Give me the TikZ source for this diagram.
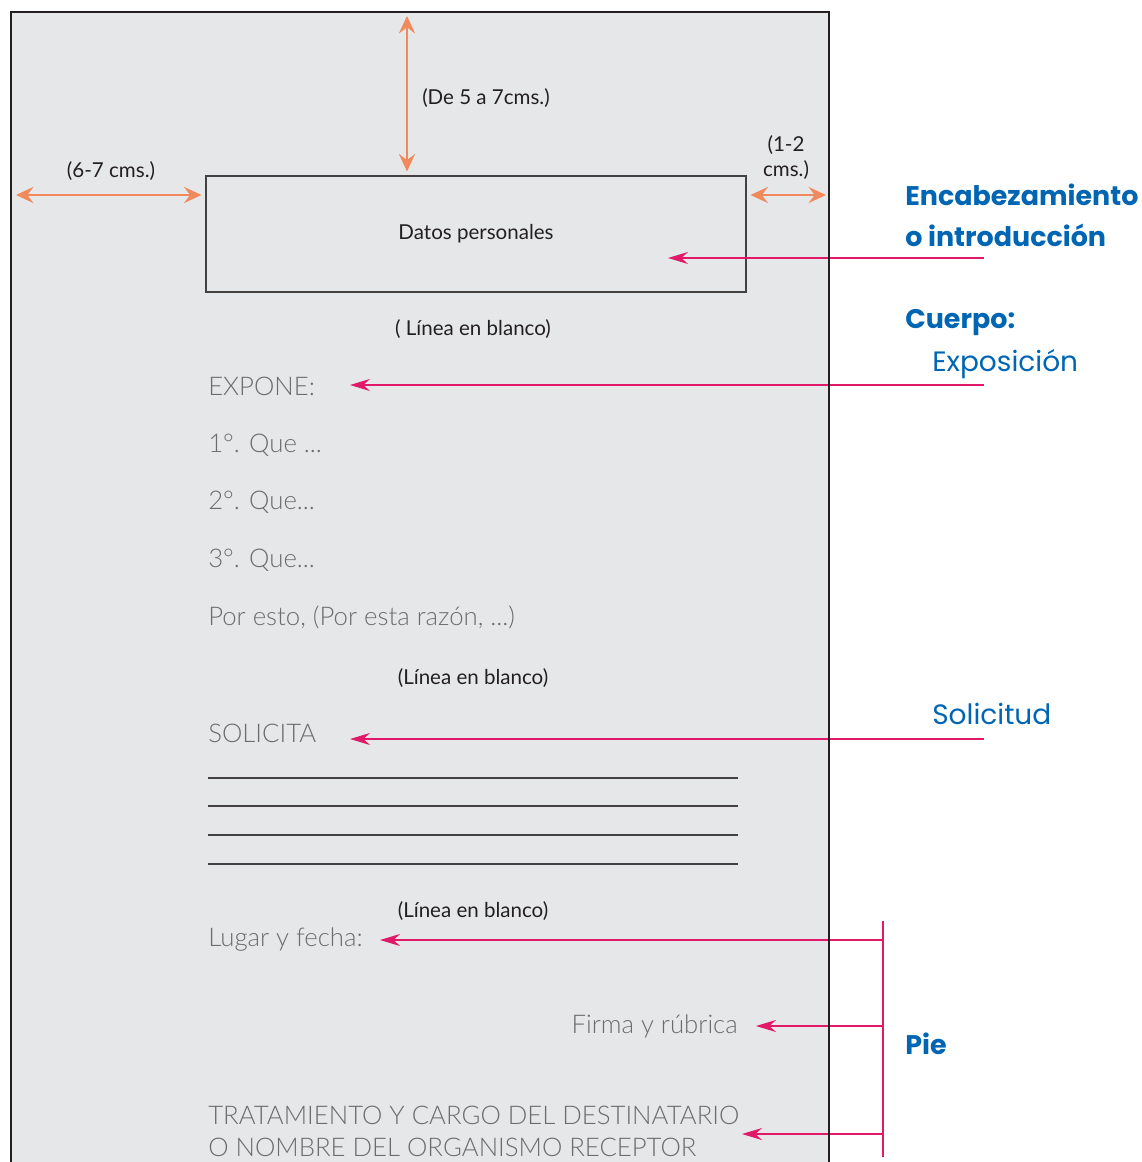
\documentclass[tikz,border=0pt]{standalone}
\usepackage{fontspec}
\setmainfont{Lato}
\newfontfamily\lightfont{Lato Light}
\newfontfamily\roundfont{Poppins}
\usepackage{tikz}
\usetikzlibrary{arrows.meta,positioning}
\definecolor{pagegray}{RGB}{230,231,233}
\definecolor{dimorange}{RGB}{240,138,92}
\definecolor{markpink}{RGB}{226,24,104}
\definecolor{headblue}{RGB}{0,102,179}
\definecolor{textgray}{RGB}{108,108,110}
\definecolor{labelblack}{RGB}{35,31,32}
\tikzstyle{dimarrow}=[
	{Stealth[length=13pt,width=12pt,inset=4.5pt]}-{Stealth[length=13pt,width=12pt,inset=4.5pt]},
	draw=dimorange,
	line width=1.9pt
]
\tikzstyle{pinkarrow}=[
	-{Stealth[length=15pt,width=9pt,inset=5pt]},
	draw=markpink,
	line width=1pt
]
\tikzstyle{graytext}=[
    inner sep=0pt,
    anchor=base west,
    text=textgray,
    font=\lightfont\fontsize{19.3}{23}\selectfont
]
\tikzstyle{smalllabel}=[
    inner sep=0pt,
    text=labelblack,
    font=\fontsize{15.4}{18.75}\selectfont,
    align=center
]
\tikzstyle{bluehead}=[
    inner sep=0pt,
    anchor=base west,
    text=headblue,
    font=\roundfont\bfseries\fontsize{20.2}{25}\selectfont
]
\tikzstyle{bluesub}=[
    inner sep=0pt,
    anchor=base west,
    text=headblue,
    font=\roundfont\fontsize{21}{25}\selectfont
]

\begin{document}
\begin{tikzpicture}[x=0.75pt,y=-0.75pt]
                \useasboundingbox (0,0) rectangle (1141,1162);
\fill[pagegray] (11,12) rectangle (829,1162);

\node[draw=labelblack!85, line width=0.8pt, minimum width=405pt, minimum height=87pt, smalllabel] (datos) at (476,234) {Datos personales};

\coordinate (topEdge) at (407,16);
\coordinate (leftEdge) at (16,195);
\coordinate (rightEdge) at (826,195);
\draw[dimarrow] (topEdge) -- ([yshift=3pt]datos.north -| topEdge);
\draw[dimarrow] (leftEdge) -- ([xshift=-3pt]leftEdge -| datos.west);
\draw[dimarrow] ([xshift=3pt]rightEdge -| datos.east) -- (rightEdge);
\node[smalllabel] (topdim) at (486,98) {(De 5 a 7cms.)};
\node[smalllabel] (leftdim) at (111,171) {(6-7 cms.)};
\node[smalllabel] (rightdim) at (786,158) {(1-2\\cms.)};

\node[smalllabel, anchor=base] (blank1) at (473,335) {( Línea en blanco)};
\node[graytext] (expone) at (208,395) {EXPONE:};
\node[graytext] (q1) at (208,452) {1°. Que ...};
\node[graytext] (q2) at (208,509) {2°. Que...};
\node[graytext] (q3) at (208,567) {3°. Que...};
\node[graytext] (porEsto) at (208,625) {Por esto, (Por esta razón, ...)};
\node[smalllabel, anchor=base] (blank2) at (473,684) {(Línea en blanco)};
\node[graytext] (solicita) at (208,742) {SOLICITA};
\foreach \y in {778,806,835,864}
    \draw[labelblack!85, line width=0.8pt] (208,\y) -- (738,\y);
\node[smalllabel, anchor=base] (blank3) at (473,917) {(Línea en blanco)};
\node[graytext] (lugar) at (208,946) {Lugar y fecha:};
\node[graytext, anchor=base east] (firma) at (738,1033) {Firma y rúbrica};
\node[graytext] (trat1) at (208,1124) {TRATAMIENTO Y CARGO DEL DESTINATARIO};
\node[graytext] (trat2) at (208,1156) {O NOMBRE DEL ORGANISMO RECEPTOR};

\node[bluehead] (enc1) at (905,206) {Encabezamiento};
\node[bluehead] (enc2) at (905,247) {o introducción};
\node[bluehead] (cuerpo) at (905,328) {Cuerpo:};
\node[bluesub] (expo) at (932,371) {Exposición};
\node[bluesub] (solic) at (932,724) {Solicitud};
\node[bluehead] (pie) at (905,1054) {Pie};

\coordinate (encEnd) at (984,258);
\coordinate (encTip) at (668,258);
\coordinate (expoEnd) at (984,385);
\coordinate (expoTip) at (350,385);
\coordinate (solEnd) at (984,739);
\coordinate (solTip) at (350,739);
\coordinate (pieTop) at (883,921);
\coordinate (pieBot) at (883,1157);
\coordinate (lugarTip) at (380,940);
\coordinate (firmaTip) at (756,1026);
\coordinate (tratTip) at (742,1134);

\draw[pinkarrow] (encEnd) -- (encTip);
\draw[pinkarrow] (expoEnd) -- (expoTip);
\draw[pinkarrow] (solEnd) -- (solTip);
\draw[draw=markpink, line width=1pt] (pieTop) -- (pieBot);
\draw[pinkarrow] (pieTop |- lugarTip) -- (lugarTip);
\draw[pinkarrow] (pieTop |- firmaTip) -- (firmaTip);
\draw[pinkarrow] (pieTop |- tratTip) -- (tratTip);

\draw[labelblack, line width=1.5pt] (11,1162) -- (11,12) -- (829,12) -- (829,1162);


            \end{tikzpicture}
\end{document}
